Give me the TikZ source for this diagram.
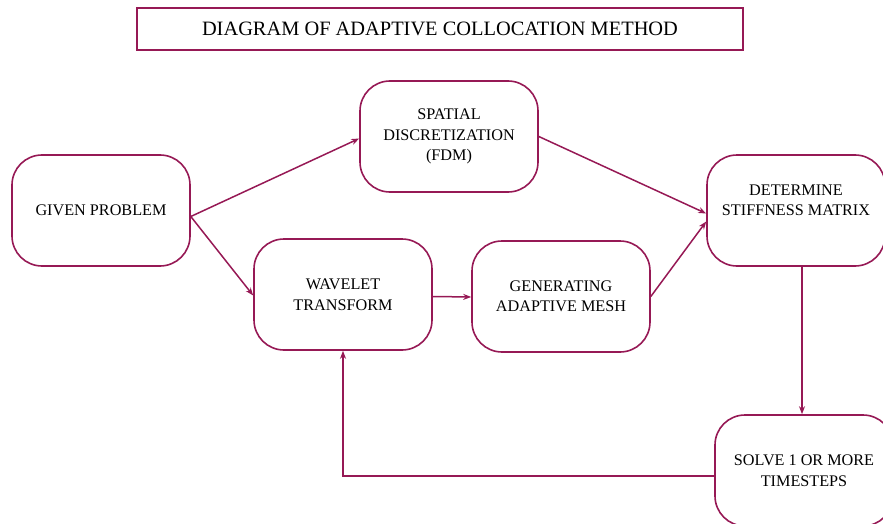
\documentclass[tikz,border=0pt]{standalone}
\usepackage{fontspec}
\setmainfont{Liberation Serif}
\usetikzlibrary{arrows.meta}
\definecolor{wine}{RGB}{150,25,85}
\begin{document}
\begin{tikzpicture}[x=1pt,y=-1pt,
  stepbox/.style={draw=wine,line width=1.6pt,rounded corners=30pt,
    minimum width=178pt,minimum height=111pt,inner sep=0pt},
  txt/.style={align=center,font=\fontsize{16.2}{20.5}\selectfont,inner sep=0pt},
  flow/.style={draw=wine,line width=1.5pt,-{Stealth[length=8pt,width=6pt]}}]
\useasboundingbox (0,0) rectangle (883,524);

% title
\node[draw=wine,line width=1.6pt,minimum width=606pt,minimum height=42pt,
  font=\fontsize{20.4}{24}\selectfont] (title) at (440,29) {DIAGRAM OF ADAPTIVE COLLOCATION METHOD};

% process boxes
\node[stepbox,txt] (given) at (101,210.5) {GIVEN PROBLEM};
\node[stepbox,txt] (spatial) at (449,136.5) {SPATIAL\\DISCRETIZATION\\(FDM)};
\node[stepbox,txt] (wavelet) at (343,294.5) {WAVELET\\TRANSFORM};
\node[stepbox,txt] (mesh) at (561,296.5) {GENERATING\\ADAPTIVE MESH};
\node[stepbox] (stiff) at (796,210.5) {};
\node[txt] (stifftext) at ([yshift=10pt]stiff.center) {DETERMINE\\STIFFNESS MATRIX};
\node[stepbox,txt] (solve) at (804,470.5) {SOLVE 1 OR MORE\\TIMESTEPS};

% connectors
\coordinate (gout) at ([yshift=-6pt]given.east);
\draw[flow] (gout) -- ([yshift=-2pt]spatial.west);
\draw[flow] (gout) -- ([yshift=-1pt]wavelet.west);
\draw[flow] ([yshift=-2pt]wavelet.east) -- ([yshift=-0.5pt]mesh.west);
\draw[flow] (spatial.east) -- ([yshift=-3pt]stiff.west);
\draw[flow] (mesh.east) -- ([yshift=-11pt]stiff.west);
\draw[flow] ([xshift=6pt]stiff.south) -- ([xshift=-2pt]solve.north);
\draw[flow] ([yshift=-5.5pt]solve.west) -| (wavelet.south);
\end{tikzpicture}
\end{document}
